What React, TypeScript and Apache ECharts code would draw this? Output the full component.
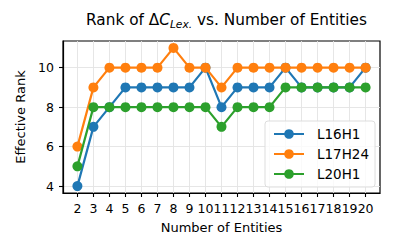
import React, { useEffect, useRef } from "react";
import * as echarts from "echarts";

const entities = [2, 3, 4, 5, 6, 7, 8, 9, 10, 11, 12, 13, 14, 15, 16, 17, 18, 19, 20];
const l16h1 = [4, 7, 8, 9, 9, 9, 9, 9, 10, 8, 9, 9, 9, 10, 9, 9, 9, 9, 10];
const l17h24 = [6, 9, 10, 10, 10, 10, 11, 10, 10, 9, 10, 10, 10, 10, 10, 10, 10, 10, 10];
const l20h1 = [5, 8, 8, 8, 8, 8, 8, 8, 8, 7, 8, 8, 8, 9, 9, 9, 9, 9, 9];
const yTicks = [4, 6, 8, 10];
const seriesNames = ["L16H1", "L17H24", "L20H1"];
const seriesValues = [l16h1, l17h24, l20h1];
const colors = ["#1f77b4", "#ff7f0e", "#2ca02c"];

const FONT = "DejaVu Sans";

export default function App() {
  const ref = useRef<HTMLDivElement>(null);
  useEffect(() => {
    if (!ref.current) return;
    const chart = echarts.init(ref.current, undefined, { renderer: "svg" });
    chart.setOption({
      animation: false,
      title: {
        text: "{a|Rank of Δ}{i|C}{s|Lex.}{a| vs. Number of Entities}",
        left: 221.5,
        textAlign: "center",
        top: 7,
        textStyle: {
          fontWeight: "normal",
          rich: {
            a: { fontFamily: FONT, fontSize: 15.3, fontWeight: "normal", color: "#000", lineHeight: 18, verticalAlign: "top" },
            i: { fontFamily: FONT, fontSize: 15.3, fontWeight: "normal", color: "#000", fontStyle: "italic", lineHeight: 18, verticalAlign: "top" },
            s: { fontFamily: FONT, fontSize: 10.7, fontWeight: "normal", color: "#000", fontStyle: "italic", lineHeight: 10, verticalAlign: "bottom" },
          },
        },
      },
      grid: {
        left: 63,
        right: 16,
        top: 41,
        bottom: 59,
        show: true,
        borderColor: "#000",
        borderWidth: 1.2,
        backgroundColor: "transparent",
      },
      legend: {
        orient: "vertical",
        left: 265,
        top: 121,
        padding: [6, 6, 6, 8],
        itemWidth: 30,
        itemHeight: 12,
        itemGap: 6,
        backgroundColor: "rgba(255,255,255,0.8)",
        borderColor: "#dddddd",
        borderWidth: 1,
        borderRadius: 3,
        textStyle: { fontFamily: FONT, fontSize: 13.5, color: "#000", padding: [0, 0, 0, 8] },
        data: seriesNames,
      },
      xAxis: {
        type: "value",
        min: 1.1,
        max: 20.9,
        name: "Number of Entities",
        nameLocation: "middle",
        nameGap: 28,
        nameTextStyle: { fontFamily: FONT, fontSize: 13, color: "#000" },
        axisLine: { show: true, onZero: false, lineStyle: { color: "#000", width: 1.2 } },
        axisTick: { show: true, length: 4, customValues: entities, lineStyle: { color: "#000", width: 1.1 } },
        axisLabel: { customValues: entities, fontFamily: FONT, fontSize: 12.5, color: "#000", margin: 9 },
        splitLine: { show: true, lineStyle: { color: "#e3e3e3", width: 0.9 } },
      },
      yAxis: {
        type: "value",
        min: 3.65,
        max: 11.35,
        name: "Effective Rank",
        nameLocation: "middle",
        nameGap: 32,
        nameTextStyle: { fontFamily: FONT, fontSize: 13, color: "#000" },
        axisLine: { show: true, onZero: false, lineStyle: { color: "#000", width: 1.2 } },
        axisTick: { show: true, length: 4, customValues: yTicks, lineStyle: { color: "#000", width: 1.1 } },
        axisLabel: { customValues: yTicks, fontFamily: FONT, fontSize: 12.5, color: "#000", margin: 9 },
        splitLine: { show: true, lineStyle: { color: "#e3e3e3", width: 0.9 } },
      },
      series: seriesNames.map((name, k) => ({
        name,
        type: "line",
        data: entities.map((x, i) => [x, seriesValues[k][i]]),
        symbol: "circle",
        symbolSize: 10,
        showSymbol: true,
        color: colors[k],
        lineStyle: { color: colors[k], width: 2.2 },
        itemStyle: { color: colors[k] },
        z: 2 + k,
      })),
    });
    return () => chart.dispose();
  }, []);
  return <div ref={ref} style={{ width: 396, height: 252, position: "absolute", left: 0, top: 0 }} />;
}
